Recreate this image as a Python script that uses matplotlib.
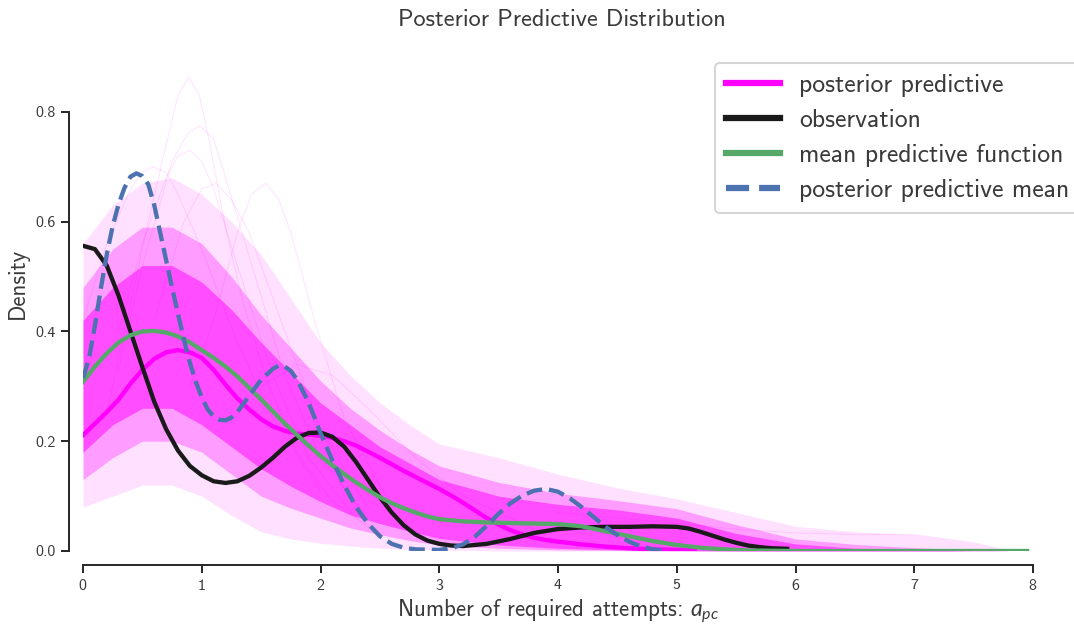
import matplotlib

matplotlib.use("Agg")
import matplotlib.pyplot as plt

plt.rcParams["font.family"] = ["cmss10", "DejaVu Sans"]
plt.rcParams["axes.unicode_minus"] = False
plt.rcParams["axes.formatter.use_mathtext"] = True
plt.rcParams["mathtext.fontset"] = "custom"
plt.rcParams["mathtext.rm"] = "cmss10"
plt.rcParams["mathtext.it"] = "Lato:italic"

TEXT = "#3a3a3a"
MAGENTA = "#FF00FF"
BLACK = "#1a1a1a"
GREEN = "#55A868"
BLUE = "#4C72B0"

# observation KDE
obs_x = [0.0, 0.1, 0.2, 0.3, 0.4, 0.5, 0.6, 0.7, 0.8, 0.9, 1.0, 1.1, 1.2, 1.3,
         1.4, 1.5, 1.6, 1.7, 1.8, 1.9, 2.0, 2.1, 2.2, 2.3, 2.4, 2.5, 2.6, 2.7,
         2.8, 2.9, 3.0, 3.1, 3.2, 3.4, 3.6, 3.8, 4.0, 4.2, 4.4, 4.6, 4.8, 5.0,
         5.1, 5.2, 5.3, 5.4, 5.5, 5.6, 5.7, 5.8, 5.93]
obs_y = [0.556, 0.550, 0.520, 0.465, 0.400, 0.335, 0.272, 0.222, 0.183, 0.155,
         0.138, 0.127, 0.124, 0.127, 0.137, 0.152, 0.170, 0.190, 0.206, 0.215,
         0.216, 0.208, 0.190, 0.162, 0.130, 0.098, 0.070, 0.047, 0.030, 0.019,
         0.013, 0.010, 0.009, 0.013, 0.022, 0.033, 0.040, 0.043, 0.044, 0.044,
         0.045, 0.044, 0.041, 0.035, 0.028, 0.021, 0.015, 0.010, 0.007, 0.005,
         0.004]

# highlighted posterior predictive draw
pp_x = [0.0, 0.1, 0.2, 0.3, 0.4, 0.5, 0.6, 0.7, 0.8, 0.9, 1.0, 1.1, 1.2, 1.3,
        1.4, 1.5, 1.6, 1.7, 1.8, 1.9, 2.0, 2.1, 2.2, 2.3, 2.4, 2.5, 2.6, 2.7,
        2.8, 2.9, 3.0, 3.1, 3.2, 3.3, 3.4, 3.5, 3.6, 3.7, 3.8, 3.9, 4.0, 4.2,
        4.4, 4.6, 4.8, 5.0, 5.15]
pp_y = [0.211, 0.232, 0.253, 0.276, 0.305, 0.330, 0.350, 0.362, 0.366, 0.362,
        0.352, 0.330, 0.303, 0.278, 0.258, 0.240, 0.227, 0.219, 0.214, 0.212,
        0.210, 0.206, 0.200, 0.192, 0.181, 0.170, 0.158, 0.146, 0.135, 0.124,
        0.113, 0.101, 0.088, 0.074, 0.060, 0.048, 0.038, 0.030, 0.024, 0.020,
        0.017, 0.012, 0.008, 0.005, 0.003, 0.002, 0.002]

# mean predictive function
mpf_x = [0.0, 0.1, 0.2, 0.3, 0.4, 0.5, 0.6, 0.7, 0.8, 0.9, 1.0, 1.1, 1.2, 1.3,
         1.4, 1.5, 1.6, 1.7, 1.8, 1.9, 2.0, 2.1, 2.2, 2.3, 2.4, 2.5, 2.6, 2.7,
         2.8, 2.9, 3.0, 3.2, 3.4, 3.6, 3.8, 4.0, 4.2, 4.4, 4.6, 4.8, 5.0, 5.2,
         5.4, 5.6, 6.0, 7.95]
mpf_y = [0.308, 0.336, 0.360, 0.380, 0.393, 0.400, 0.401, 0.398, 0.391, 0.380,
         0.366, 0.352, 0.336, 0.318, 0.297, 0.276, 0.254, 0.232, 0.212, 0.192,
         0.173, 0.156, 0.140, 0.125, 0.111, 0.098, 0.087, 0.078, 0.070, 0.063,
         0.058, 0.054, 0.052, 0.051, 0.050, 0.049, 0.045, 0.036, 0.027, 0.018,
         0.011, 0.006, 0.003, 0.001, 0.000, 0.000]

# posterior predictive mean
ppm_x = [0.0, 0.05, 0.1, 0.15, 0.2, 0.25, 0.3, 0.35, 0.4, 0.45, 0.5, 0.55, 0.6,
         0.65, 0.7, 0.75, 0.8, 0.85, 0.9, 0.95, 1.0, 1.05, 1.1, 1.15, 1.2, 1.25,
         1.3, 1.4, 1.5, 1.6, 1.65, 1.7, 1.75, 1.8, 1.85, 1.9, 1.95, 2.0, 2.1,
         2.2, 2.3, 2.4, 2.5, 2.6, 2.7, 2.8, 3.0, 3.1, 3.2, 3.3, 3.4, 3.5, 3.6,
         3.7, 3.8, 3.9, 4.0, 4.1, 4.2, 4.3, 4.4, 4.5, 4.6, 4.7, 4.8, 4.9]
ppm_y = [0.315, 0.350, 0.410, 0.478, 0.540, 0.592, 0.632, 0.662, 0.682, 0.688,
         0.683, 0.668, 0.630, 0.580, 0.530, 0.480, 0.432, 0.385, 0.343, 0.308,
         0.280, 0.258, 0.245, 0.239, 0.238, 0.243, 0.253, 0.283, 0.312, 0.332,
         0.338, 0.336, 0.328, 0.313, 0.292, 0.270, 0.243, 0.215, 0.165, 0.120,
         0.080, 0.050, 0.027, 0.013, 0.006, 0.003, 0.002, 0.005, 0.012, 0.026,
         0.046, 0.068, 0.087, 0.101, 0.110, 0.113, 0.108, 0.096, 0.080, 0.062,
         0.044, 0.029, 0.017, 0.008, 0.003, 0.001]

# spread of the posterior predictive draws (read from the cloud)
band_x = [0.0, 0.25, 0.5, 0.75, 1.0, 1.25, 1.5, 1.75, 2.0, 2.25, 2.5, 2.75,
          3.0, 3.5, 4.0, 4.5, 5.0, 5.5, 6.0, 6.5, 7.0, 7.5, 7.8]
outer_lo = [0.08, 0.10, 0.12, 0.12, 0.10, 0.065, 0.035, 0.022, 0.014, 0.009,
            0.005, 0.003, 0.002, 0, 0, 0, 0, 0, 0, 0, 0, 0, 0]
outer_hi = [0.56, 0.63, 0.67, 0.68, 0.65, 0.60, 0.54, 0.46, 0.38, 0.32, 0.27,
            0.23, 0.195, 0.17, 0.14, 0.115, 0.095, 0.07, 0.045, 0.035, 0.03,
            0.015, 0.0]
mid_lo = [0.13, 0.17, 0.20, 0.20, 0.18, 0.14, 0.10, 0.078, 0.06, 0.042,
          0.03, 0.019, 0.011, 0.005, 0.002, 0.001, 0, 0, 0, 0, 0, 0, 0]
mid_hi = [0.48, 0.55, 0.59, 0.59, 0.56, 0.50, 0.43, 0.37, 0.31, 0.26, 0.22,
          0.185, 0.155, 0.125, 0.105, 0.092, 0.077, 0.048, 0.022, 0.012, 0.006,
          0.002, 0.0]
core_lo = [0.18, 0.23, 0.26, 0.26, 0.23, 0.19, 0.15, 0.118, 0.09, 0.066,
           0.05, 0.036, 0.023, 0.011, 0.005, 0.002, 0.001, 0, 0, 0, 0, 0, 0]
core_hi = [0.42, 0.48, 0.52, 0.52, 0.49, 0.44, 0.38, 0.325, 0.27, 0.23, 0.19,
           0.16, 0.13, 0.10, 0.085, 0.075, 0.06, 0.032, 0.013, 0.005, 0.002,
           0.0, 0.0]

# a few stray draws that stick out of the cloud
stray = [
    ([0.2, 0.4, 0.55, 0.7, 0.8, 0.89, 0.98, 1.07, 1.2, 1.35, 1.55, 1.8, 2.1, 2.5],
     [0.25, 0.45, 0.60, 0.74, 0.83, 0.864, 0.83, 0.74, 0.59, 0.45, 0.31, 0.18,
      0.09, 0.03]),
    ([0.3, 0.5, 0.75, 0.88, 0.98, 1.1, 1.2, 1.45, 1.7, 2.0, 2.4],
     [0.33, 0.52, 0.71, 0.76, 0.775, 0.75, 0.68, 0.50, 0.32, 0.17, 0.06]),
    ([0.3, 0.5, 0.7, 0.8, 0.9, 1.0, 1.1, 1.3, 1.6, 1.9, 2.3],
     [0.40, 0.56, 0.68, 0.72, 0.73, 0.71, 0.66, 0.52, 0.32, 0.17, 0.06]),
    ([0.0, 0.2, 0.4, 0.5, 0.59, 0.7, 0.8, 1.0, 1.3, 1.6, 2.0],
     [0.42, 0.56, 0.66, 0.69, 0.70, 0.69, 0.65, 0.55, 0.38, 0.24, 0.11]),
    ([0.6, 0.85, 1.0, 1.12, 1.25, 1.4, 1.7, 2.0, 2.4],
     [0.42, 0.60, 0.66, 0.67, 0.64, 0.58, 0.40, 0.22, 0.08]),
    ([0.9, 1.1, 1.3, 1.42, 1.54, 1.65, 1.75, 1.95, 2.2, 2.6],
     [0.30, 0.42, 0.58, 0.65, 0.67, 0.64, 0.58, 0.42, 0.24, 0.08]),
    ([1.5, 1.8, 2.1, 2.4, 2.8, 3.2, 3.8],
     [0.30, 0.34, 0.32, 0.26, 0.17, 0.10, 0.04]),
    ([4.0, 4.5, 5.0, 5.5, 6.0, 6.5, 7.0, 7.5, 7.8],
     [0.07, 0.06, 0.05, 0.04, 0.033, 0.03, 0.03, 0.015, 0.0]),
]

fig = plt.figure(figsize=(10.74, 6.26), dpi=100)
ax = fig.add_axes([83 / 1074, 75 / 626, 950 / 1074, 494 / 626])

ax.fill_between(band_x, outer_lo, outer_hi, color=MAGENTA, alpha=0.12, lw=0)
ax.fill_between(band_x, mid_lo, mid_hi, color=MAGENTA, alpha=0.30, lw=0)
ax.fill_between(band_x, core_lo, core_hi, color=MAGENTA, alpha=0.50, lw=0)
for sx, sy in stray:
    ax.plot(sx, sy, color=MAGENTA, alpha=0.10, lw=0.8)

ax.plot(pp_x, pp_y, color=MAGENTA, lw=3.1, label="posterior predictive")
ax.plot(obs_x, obs_y, color=BLACK, lw=3.1, label="observation")
ax.plot(mpf_x, mpf_y, color=GREEN, lw=3.1, label="mean predictive function")
ax.plot(ppm_x, ppm_y, color=BLUE, lw=3.1, ls="--",
        label="posterior predictive mean")

ax.set_xlim(0, 8)
ax.set_ylim(0, 0.9)
ax.set_xticks(range(9))
ax.set_yticks([0.0, 0.2, 0.4, 0.6, 0.8])
ax.set_yticklabels(["0.0", "0.2", "0.4", "0.6", "0.8"])

for side in ["top", "right"]:
    ax.spines[side].set_visible(False)
for side in ["left", "bottom"]:
    ax.spines[side].set_position(("outward", 10))
    ax.spines[side].set_color("#262626")
    ax.spines[side].set_linewidth(1.4)
ax.spines["left"].set_bounds(0, 0.8)
ax.spines["bottom"].set_bounds(0, 8)
ax.tick_params(axis="both", colors="#262626", labelcolor=TEXT, labelsize=11.5,
               length=6, width=1.4, direction="out")

ax.set_xlabel("Number of required attempts: $a_{pc}$", fontsize=16.5,
              color=TEXT, labelpad=3)
ax.set_ylabel("Density", fontsize=16.5, color=TEXT)
ax.yaxis.set_label_coords(-0.057, 0.5425)
fig.text(562 / 1074, 1 - 20 / 626, "Posterior Predictive Distribution",
         ha="center", va="center", fontsize=17.5, color=TEXT)

leg = ax.legend(loc="upper left", bbox_to_anchor=(715 / 1074, 1 - 63 / 626),
                bbox_transform=fig.transFigure, borderaxespad=0, fontsize=18.5,
                handlelength=2.1, handletextpad=0.75, borderpad=0.42,
                labelspacing=0.47, frameon=True, fancybox=True)
leg.get_frame().set_edgecolor("#cccccc")
leg.get_frame().set_linewidth(1.5)
for line in leg.get_lines():
    line.set_linewidth(4.5)
for t in leg.get_texts():
    t.set_color(TEXT)

fig.savefig("out.png", dpi=100)
